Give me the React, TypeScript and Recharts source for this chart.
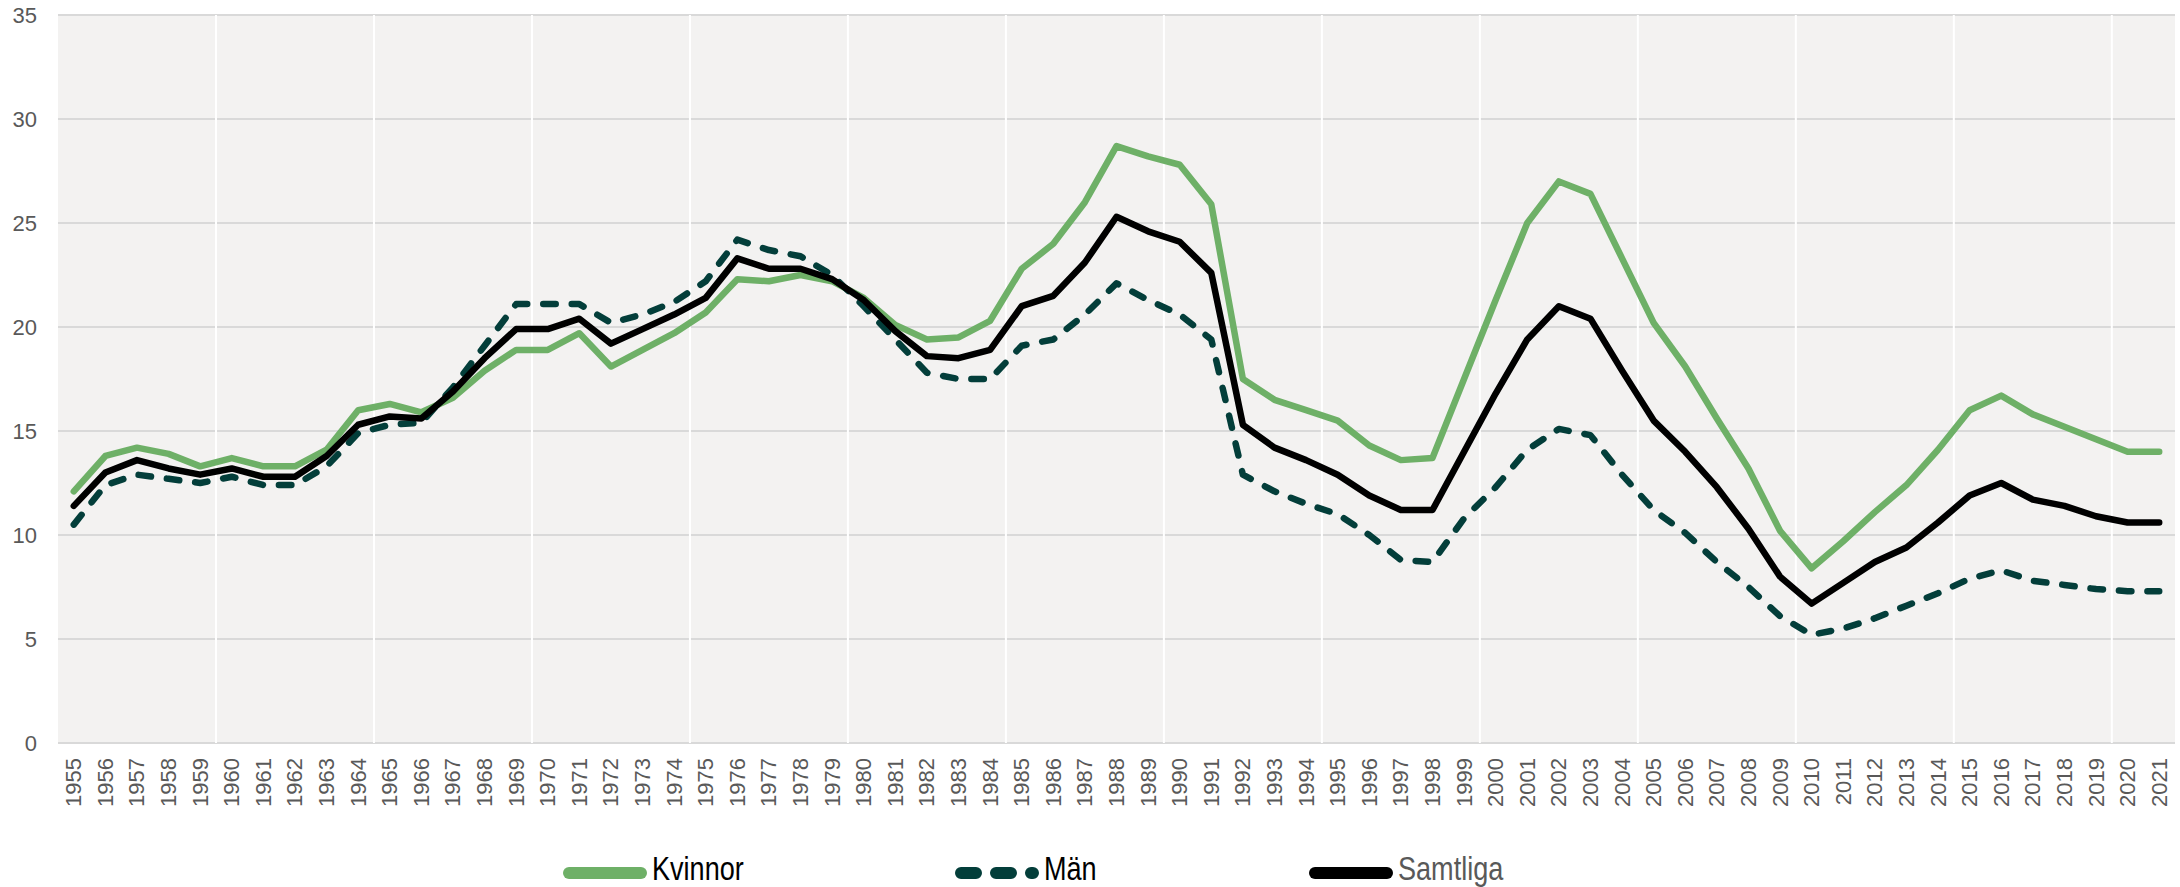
import React from 'react';
import { LineChart, Line, XAxis, YAxis, CartesianGrid } from 'recharts';

const years = [
  '1955','1956','1957','1958','1959','1960','1961','1962','1963','1964',
  '1965','1966','1967','1968','1969','1970','1971','1972','1973','1974',
  '1975','1976','1977','1978','1979','1980','1981','1982','1983','1984',
  '1985','1986','1987','1988','1989','1990','1991','1992','1993','1994',
  '1995','1996','1997','1998','1999','2000','2001','2002','2003','2004',
  '2005','2006','2007','2008','2009','2010','2011','2012','2013','2014',
  '2015','2016','2017','2018','2019','2020','2021',
];

const kvinnor = [
  12.1, 13.8, 14.2, 13.9, 13.3, 13.7, 13.3, 13.3, 14.1, 16.0,
  16.3, 15.9, 16.6, 17.9, 18.9, 18.9, 19.7, 18.1, 18.9, 19.7,
  20.7, 22.3, 22.2, 22.5, 22.2, 21.4, 20.1, 19.4, 19.5, 20.3,
  22.8, 24.0, 26.0, 28.7, 28.2, 27.8, 25.9, 17.5, 16.5, 16.0,
  15.5, 14.3, 13.6, 13.7, 17.5, 21.3, 25.0, 27.0, 26.4, 23.3,
  20.2, 18.1, 15.6, 13.2, 10.2, 8.4, 9.7, 11.1, 12.4, 14.1,
  16.0, 16.7, 15.8, 15.2, 14.6, 14.0, 14.0,
];

const man = [
  10.5, 12.4, 12.9, 12.7, 12.5, 12.8, 12.4, 12.4, 13.3, 14.9,
  15.3, 15.4, 17.1, 19.1, 21.1, 21.1, 21.1, 20.2, 20.6, 21.2,
  22.2, 24.2, 23.7, 23.4, 22.5, 21.0, 19.4, 17.8, 17.5, 17.5,
  19.1, 19.4, 20.6, 22.1, 21.3, 20.6, 19.4, 12.9, 12.1, 11.5,
  11.0, 10.0, 8.8, 8.7, 10.8, 12.3, 14.1, 15.1, 14.8, 12.9,
  11.2, 10.1, 8.7, 7.5, 6.1, 5.2, 5.5, 6.0, 6.6, 7.2,
  7.9, 8.3, 7.8, 7.6, 7.4, 7.3, 7.3,
];

const samtliga = [
  11.4, 13.0, 13.6, 13.2, 12.9, 13.2, 12.8, 12.8, 13.8, 15.3,
  15.7, 15.6, 16.9, 18.5, 19.9, 19.9, 20.4, 19.2, 19.9, 20.6,
  21.4, 23.3, 22.8, 22.8, 22.3, 21.3, 19.8, 18.6, 18.5, 18.9,
  21.0, 21.5, 23.1, 25.3, 24.6, 24.1, 22.6, 15.3, 14.2, 13.6,
  12.9, 11.9, 11.2, 11.2, 14.0, 16.8, 19.4, 21.0, 20.4, 17.9,
  15.5, 14.0, 12.3, 10.3, 8.0, 6.7, 7.7, 8.7, 9.4, 10.6,
  11.9, 12.5, 11.7, 11.4, 10.9, 10.6, 10.6,
];

const yTicks = [0, 5, 10, 15, 20, 25, 30, 35];

const seriesNames = ['Kvinnor', 'Män', 'Samtliga'];
const seriesKeys = ['kvinnor', 'man', 'samtliga'];
const seriesColors = ['#6EB067', '#033E3A', '#000000'];
const seriesDash = ['', '12.5 16', ''];
const legendTextColors = ['#000000', '#000000', '#595959'];
const legendDash = ['', '15 20', ''];
const legendLeft = [563, 955, 1309];

const data = years.map((year, i) => ({
  year,
  kvinnor: kvinnor[i],
  man: man[i],
  samtliga: samtliga[i],
}));

const FONT = '"Liberation Sans", Arial, sans-serif';

const XTick = (props: any) => {
  const { x, y, payload } = props;
  return (
    <g transform={`translate(${x},${y})`}>
      <text
        transform="rotate(-90)"
        textAnchor="end"
        dominantBaseline="central"
        fill="#595959"
        fontSize={22}
        fontFamily={FONT}
      >
        {payload.value}
      </text>
    </g>
  );
};

const verticalGen = ({ offset }: any) => {
  const band = offset.width / years.length;
  const out: number[] = [];
  for (let k = 5; k < years.length; k += 5) out.push(offset.left + k * band);
  return out;
};

export default function App() {
  return (
    <div style={{ position: 'relative', width: 2180, height: 887, background: '#ffffff' }}>
      <style>{'body{margin:0;}'}</style>
      <LineChart
        width={2180}
        height={887}
        data={data}
        margin={{ top: 15, right: 5, left: 0, bottom: 0 }}
      >
        <CartesianGrid
          vertical={false}
          stroke="#D9D9D9"
          strokeWidth={2}
          fill="#F3F2F1"
        />
        <CartesianGrid
          horizontal={false}
          stroke="#FFFFFF"
          strokeWidth={2}
          verticalCoordinatesGenerator={verticalGen}
        />
        <XAxis
          dataKey="year"
          type="category"
          interval={0}
          axisLine={false}
          tickLine={false}
          tickSize={0}
          tickMargin={15}
          height={144}
          padding={{ left: 15.8, right: 15.8 }}
          tick={<XTick />}
        />
        <YAxis
          domain={[0, 35]}
          ticks={yTicks}
          axisLine={false}
          tickLine={false}
          tickSize={0}
          tickMargin={21}
          width={58}
          tick={{ fill: '#595959', fontSize: 22, fontFamily: FONT }}
        />
        {seriesKeys.map((k, i) => (
          <Line
            key={k}
            dataKey={k}
            name={seriesNames[i]}
            type="linear"
            stroke={seriesColors[i]}
            strokeWidth={6.5}
            strokeDasharray={seriesDash[i] || undefined}
            strokeLinecap="round"
            strokeLinejoin="round"
            dot={false}
            activeDot={false}
            isAnimationActive={false}
          />
        ))}
      </LineChart>
      {seriesNames.map((n, i) => (
        <div
          key={n}
          style={{
            position: 'absolute',
            left: legendLeft[i],
            top: 855,
            display: 'flex',
            alignItems: 'center',
          }}
        >
          <svg width={84} height={14} style={{ display: 'block' }}>
            <line
              x1={6}
              x2={78}
              y1={7}
              y2={7}
              stroke={seriesColors[i]}
              strokeWidth={12}
              strokeLinecap="round"
              strokeDasharray={legendDash[i] || undefined}
            />
          </svg>
          <span
            style={{
              display: 'inline-block',
              marginLeft: 5,
              fontFamily: FONT,
              fontSize: 33,
              lineHeight: '36px',
              color: legendTextColors[i],
              position: 'relative',
              top: -4,
              whiteSpace: 'nowrap',
              transform: 'scaleX(0.82)',
              transformOrigin: 'left center',
            }}
          >
            {n}
          </span>
        </div>
      ))}
    </div>
  );
}
